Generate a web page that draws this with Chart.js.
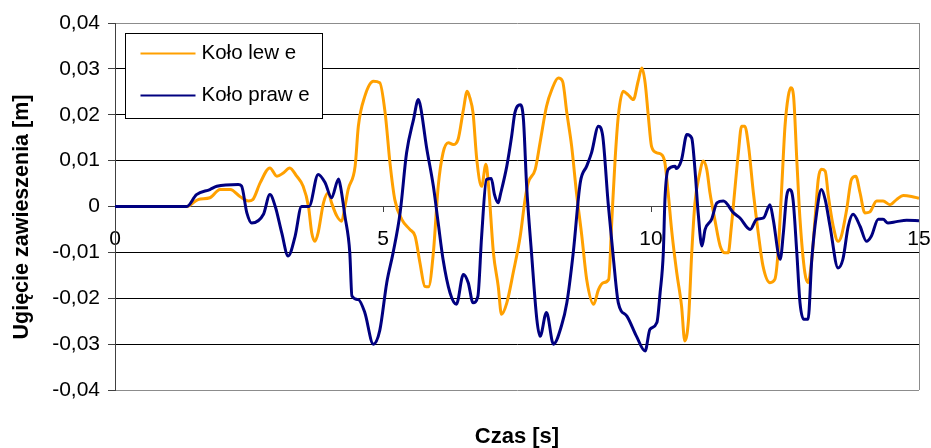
<!DOCTYPE html>
<html>
<head>
<meta charset="utf-8">
<script src="https://cdn.jsdelivr.net/npm/chart.js@4/dist/chart.umd.min.js"></script>
<style>
  html, body { margin: 0; padding: 0; background: #ffffff; }
  #wrap { width: 931px; height: 448px; }
</style>
</head>
<body>
<div id="wrap"><canvas id="chart" width="931" height="448"></canvas></div>
<script>
// Suspension deflection of the left and right wheel over time
const seriesNames = ['Koło lew e', 'Koło praw e'];
const xAxisTitle = 'Czas [s]';
const yAxisTitle = 'Ugięcie zawieszenia [m]';
const xTickLabels = ['0', '5', '10', '15'];
const yTickLabels = ['-0,04', '-0,03', '-0,02', '-0,01', '0', '0,01', '0,02', '0,03', '0,04'];

// left wheel: time [s]
const timeLewe = [
  0, 1.34, 1.55, 1.77, 1.96, 2.15, 2.33, 2.49, 2.57, 2.71,
  2.89, 3.02, 3.14, 3.26, 3.39, 3.51, 3.61, 3.67, 3.73, 3.79,
  3.89, 3.98, 4.04, 4.14, 4.23, 4.29, 4.35, 4.48, 4.54, 4.66,
  4.82, 4.94, 5.04, 5.13, 5.22, 5.35, 5.50, 5.60, 5.69, 5.78,
  5.85, 5.94, 6.03, 6.12, 6.22, 6.31, 6.40, 6.50, 6.57, 6.62,
  6.68, 6.75, 6.84, 6.92, 6.97, 7.06, 7.15, 7.21, 7.31, 7.43,
  7.56, 7.65, 7.71, 7.84, 7.93, 8.05, 8.15, 8.27, 8.35, 8.43,
  8.52, 8.61, 8.71, 8.80, 8.93, 9.02, 9.11, 9.21, 9.27, 9.33,
  9.39, 9.48, 9.57, 9.67, 9.76, 9.83, 9.89, 9.95, 10.01, 10.11,
  10.20, 10.26, 10.32, 10.39, 10.48, 10.57, 10.63, 10.70, 10.76, 10.82,
  10.91, 10.97, 11.04, 11.10, 11.19, 11.29, 11.38, 11.44, 11.50, 11.57,
  11.63, 11.69, 11.75, 11.82, 11.91, 12.00, 12.09, 12.22, 12.31, 12.37,
  12.44, 12.50, 12.56, 12.61, 12.66, 12.72, 12.78, 12.87, 12.93, 13.00,
  13.06, 13.12, 13.18, 13.25, 13.31, 13.40, 13.49, 13.55, 13.65, 13.74,
  13.82, 13.90, 13.99, 14.08, 14.21, 14.33, 14.46, 14.58, 14.71, 14.86,
  15.0
];
// left wheel: deflection [m]
const koloLewe = [
  0, 0, 0.0015, 0.0019, 0.0037, 0.0037, 0.0022, 0.0012, 0.0015, 0.0052,
  0.0084, 0.0066, 0.0073, 0.0084, 0.0066, 0.0044, 0, -0.0057, -0.0076, -0.0057,
  0.0008, 0.003, 0.0008, -0.0021, -0.0032, 0, 0.0037, 0.0088, 0.0175, 0.024,
  0.0273, 0.0270, 0.0204, 0.0095, 0.0015, -0.0028, -0.005, -0.0065, -0.0123, -0.0174,
  -0.0175, -0.010, 0.0044, 0.0117, 0.0139, 0.0135, 0.0146, 0.0211, 0.0251, 0.0237,
  0.0204, 0.0102, 0.0044, 0.0092, 0.0044, -0.0101, -0.0174, -0.0235, -0.021, -0.0144,
  -0.0065, 0.0015, 0.0052, 0.0081, 0.0139, 0.0218, 0.0255, 0.028, 0.0273, 0.0204,
  0.0131, 0.003, -0.0065, -0.0159, -0.0213, -0.0181, -0.0166, -0.0159, -0.0028, 0.0102,
  0.0197, 0.0251, 0.0244, 0.0233, 0.0273, 0.0302, 0.027, 0.0197, 0.0131, 0.0117,
  0.0113, 0.0095, 0.003, -0.0057, -0.0144, -0.0217, -0.0293, -0.0246, -0.0101, 0.0008,
  0.0073, 0.0099, 0.0081, 0.003, -0.0028, -0.0086, -0.0101, -0.0101, -0.0043, 0.0044,
  0.0117, 0.0175, 0.0175, 0.0131, 0.003, -0.0057, -0.013, -0.0166, -0.0159, -0.0101,
  0.0044, 0.0175, 0.024, 0.0259, 0.024, 0.0102, -0.0028, -0.0144, -0.0166, -0.0115,
  -0.0028, 0.0059, 0.0081, 0.0077, 0.0022, -0.0043, -0.0076, -0.0065, -0.0007, 0.0059,
  0.0066, 0.003, -0.0014, -0.0012, 0.0012, 0.0012, 0.0004, 0.0015, 0.0024, 0.0022,
  0.0018
];

// right wheel: time [s]
const timePrawe = [
  0, 1.34, 1.52, 1.77, 1.90, 2.30, 2.36, 2.46, 2.55, 2.77,
  2.89, 2.99, 3.11, 3.23, 3.36, 3.48, 3.62, 3.79, 3.92, 4.04,
  4.17, 4.21, 4.29, 4.38, 4.42, 4.54, 4.66, 4.82, 4.94, 5.07,
  5.19, 5.32, 5.44, 5.57, 5.66, 5.70, 5.81, 5.94, 6.03, 6.12,
  6.25, 6.37, 6.50, 6.59, 6.68, 6.77, 6.84, 6.93, 7.02, 7.08,
  7.15, 7.19, 7.31, 7.40, 7.46, 7.56, 7.62, 7.68, 7.77, 7.87,
  7.93, 8.05, 8.18, 8.33, 8.43, 8.55, 8.68, 8.80, 8.89, 9.02,
  9.10, 9.20, 9.30, 9.39, 9.55, 9.73, 9.89, 9.98, 10.11, 10.17,
  10.23, 10.26, 10.32, 10.45, 10.47, 10.57, 10.67, 10.76, 10.82, 10.88,
  10.95, 11.01, 11.13, 11.23, 11.35, 11.54, 11.66, 11.85, 11.97, 12.10,
  12.22, 12.28, 12.41, 12.47, 12.53, 12.59, 12.65, 12.72, 12.78, 12.85,
  12.93, 13.00, 13.09, 13.18, 13.25, 13.34, 13.49, 13.58, 13.68, 13.77,
  13.90, 14.02, 14.11, 14.24, 14.33, 14.42, 14.58, 14.77, 15.0
];
// right wheel: deflection [m]
const koloPrawe = [
  0, 0, 0.0026, 0.0037, 0.0044, 0.0048, 0.0045, -0.0014, -0.0036, -0.0017,
  0.0026, 0, -0.0057, -0.0108, -0.0065, 0, 0, 0.007, 0.0052, 0.0019,
  0.006, 0.0042, -0.0021, -0.010, -0.0195, -0.0203, -0.0231, -0.030, -0.027, -0.0166,
  -0.010, -0.0013, 0.0117, 0.019, 0.0233, 0.0218, 0.0131, 0.0044, -0.0036, -0.0115,
  -0.0188, -0.0213, -0.0148, -0.0166, -0.021, -0.0196, -0.0065, 0.0059, 0.0061, 0.0026,
  0.0008, 0.0026, 0.0088, 0.0153, 0.0204, 0.0222, 0.019, 0.0044, -0.010, -0.0246,
  -0.0283, -0.0231, -0.030, -0.026, -0.021, -0.010, 0.0052, 0.0088, 0.0117, 0.0175,
  0.0153, 0.0008, -0.0115, -0.021, -0.0239, -0.0283, -0.0315, -0.0268, -0.0253, -0.0188,
  -0.010, 0.0015, 0.0081, 0.0088, 0.0083, 0.0102, 0.0157, 0.0149, 0.0081, -0.0014,
  -0.0086, -0.005, -0.0028, 0.0008, 0.0012, -0.0014, -0.0025, -0.005, -0.0028, -0.0025,
  0.0004, -0.0028, -0.0115, -0.0057, 0.0022, 0.0037, 0.0015, -0.010, -0.021, -0.0246,
  -0.0246, -0.0115, -0.0014, 0.0037, 0.0015, -0.0043, -0.0134, -0.0115, -0.0043, -0.0017,
  -0.0043, -0.0076, -0.0065, -0.0028, -0.0028, -0.0036, -0.0033, -0.003, -0.0031
];

const seriesColors = ['#ffa000', '#000080'];
const FONT = 'Liberation Sans, Arial, sans-serif';

const toPoints = (xs, ys) => xs.map((x, i) => ({ x: x, y: ys[i] }));

// Right edge of the plot frame, y axis title and the boxed legend
const decorations = {
  id: 'decorations',
  beforeDatasetsDraw(chart) {
    const { ctx, chartArea: a } = chart;
    ctx.save();
    ctx.strokeStyle = '#8c8c8c';
    ctx.lineWidth = 1;
    ctx.beginPath();
    ctx.moveTo(Math.round(a.right) + 0.5, a.top);
    ctx.lineTo(Math.round(a.right) + 0.5, a.bottom);
    ctx.stroke();
    ctx.restore();
  },
  afterDraw(chart) {
    const { ctx, chartArea: a } = chart;
    ctx.save();
    // y axis title
    ctx.translate(22, 217);
    ctx.rotate(-Math.PI / 2);
    ctx.fillStyle = '#000';
    ctx.font = 'bold 21.5px ' + FONT;
    ctx.textAlign = 'center';
    ctx.textBaseline = 'middle';
    ctx.fillText(yAxisTitle, 0, 0);
    ctx.restore();

    // legend
    const bx = Math.round(a.left) + 10.5, by = Math.round(a.top) + 10.5, bw = 197, bh = 85;
    ctx.save();
    ctx.fillStyle = '#ffffff';
    ctx.fillRect(bx, by, bw, bh);
    ctx.strokeStyle = '#000000';
    ctx.lineWidth = 1;
    ctx.strokeRect(bx, by, bw, bh);
    ctx.font = '20.5px ' + FONT;
    ctx.textBaseline = 'middle';
    ctx.textAlign = 'left';
    chart.data.datasets.forEach((ds, i) => {
      const y = by + 20 + i * 42;
      ctx.strokeStyle = ds.borderColor;
      ctx.lineWidth = 2;
      ctx.beginPath();
      ctx.moveTo(bx + 15, y);
      ctx.lineTo(bx + 70, y);
      ctx.stroke();
      ctx.fillStyle = '#000';
      ctx.fillText(ds.label, bx + 76, y);
    });
    ctx.restore();
  }
};

new Chart(document.getElementById('chart'), {
  type: 'line',
  data: {
    datasets: [
      {
        label: seriesNames[0],
        data: toPoints(timeLewe, koloLewe),
        borderColor: seriesColors[0],
        borderWidth: 3,
        pointRadius: 0,
        cubicInterpolationMode: 'monotone',
        order: 1
      },
      {
        label: seriesNames[1],
        data: toPoints(timePrawe, koloPrawe),
        borderColor: seriesColors[1],
        borderWidth: 3,
        pointRadius: 0,
        cubicInterpolationMode: 'monotone',
        order: 0
      }
    ]
  },
  options: {
    responsive: false,
    animation: false,
    devicePixelRatio: 1,
    layout: { padding: { top: 23, right: 12, left: 0, bottom: 0 } },
    plugins: {
      legend: { display: false },
      tooltip: { enabled: false },
      title: {
        display: true,
        text: xAxisTitle,
        position: 'bottom',
        fullSize: false,
        color: '#000',
        font: { family: FONT, size: 22, weight: 'bold', lineHeight: 1 },
        padding: { top: 36, bottom: 0 }
      }
    },
    scales: {
      x: {
        type: 'linear',
        min: 0,
        max: 15,
        position: { y: 0 },
        ticks: {
          stepSize: 5,
          autoSkip: false,
          maxRotation: 0,
          color: '#000',
          font: { family: FONT, size: 21 },
          padding: 15,
          callback: (v, i) => xTickLabels[i]
        },
        grid: { drawOnChartArea: false, drawTicks: true, tickLength: 5, tickColor: '#404040' },
        border: { color: '#404040', width: 1 },
        // labels sit below the zero line, so they need no side padding
        afterFit: (s) => { s.paddingLeft = 0; s.paddingRight = 0; }
      },
      y: {
        min: -0.04,
        max: 0.04,
        ticks: {
          stepSize: 0.01,
          color: '#000',
          font: { family: FONT, size: 21 },
          padding: 8,
          callback: (v, i) => yTickLabels[i]
        },
        grid: {
          color: (c) => (c.index === 0 || c.index === 8) ? '#8c8c8c' : '#000000',
          lineWidth: 1,
          tickLength: 7,
          tickColor: '#404040'
        },
        border: { color: '#404040', width: 1 },
        afterFit: (s) => { s.width = 115; }
      }
    }
  },
  plugins: [decorations]
});
</script>
</body>
</html>
